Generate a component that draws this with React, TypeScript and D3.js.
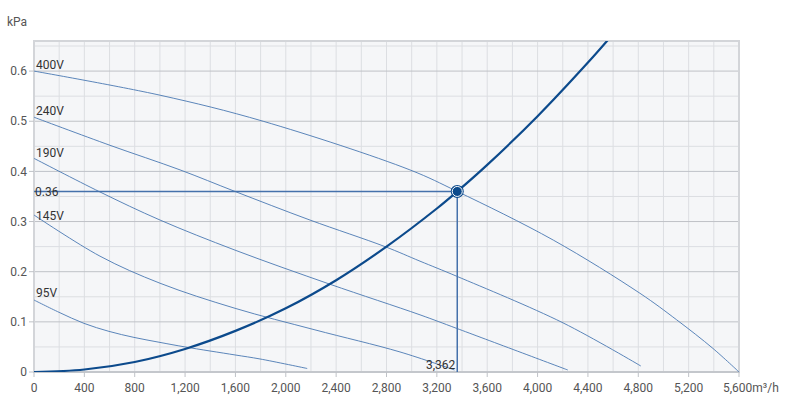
import React from 'react';
import * as d3 from 'd3';

const W = 788;
const H = 405;
const M = { left: 34, right: 49, top: 41, bottom: 33 };

const X_MAX = 5600;
const Y_MAX = 0.66;

const xTicks = [0, 400, 800, 1200, 1600, 2000, 2400, 2800, 3200, 3600, 4000, 4400, 4800, 5200, 5600];
const yTicks = [0, 0.1, 0.2, 0.3, 0.4, 0.5, 0.6];
const xMinorGrid = d3.range(0, 5601, 200);
const yMinorGrid = [0.05, 0.15, 0.25, 0.35, 0.45, 0.55, 0.65];

const fanLabels = ['400V', '240V', '190V', '145V', '95V'];

const fan400: [number, number][] = [
  [0, 0.6], [1000, 0.552], [1820, 0.5], [2986, 0.403], [3362, 0.36], [4125, 0.263],
  [4813, 0.157], [5105, 0.104], [5393, 0.047], [5600, 0],
];
const fan240: [number, number][] = [
  [0, 0.508], [604, 0.452], [1160, 0.403], [1597, 0.36], [2192, 0.303], [2788, 0.25],
  [3066, 0.221], [3357, 0.191], [4202, 0.098], [4820, 0.012],
];
const fan190: [number, number][] = [
  [0, 0.426], [524, 0.359], [1001, 0.303], [1597, 0.243], [2351, 0.175], [3066, 0.114],
  [3357, 0.087], [4240, 0.004],
];
const fan145: [number, number][] = [
  [0, 0.313], [524, 0.231], [1001, 0.177], [1597, 0.127], [2232, 0.084], [2907, 0.04],
  [3340, 0.004],
];
const fan95: [number, number][] = [
  [0, 0.1435], [199, 0.119], [397, 0.097], [596, 0.081], [794, 0.069], [1001, 0.059],
  [1199, 0.05], [1597, 0.034], [1795, 0.026], [2170, 0.007],
];
const fanSeries = [fan400, fan240, fan190, fan145, fan95];

const systemCurve: [number, number][] = [
  [0, 0], [400, 0.005], [800, 0.02], [1200, 0.046], [1600, 0.082], [2000, 0.127],
  [2400, 0.183], [2800, 0.25], [3200, 0.326], [3362, 0.36], [3600, 0.413],
  [4000, 0.51], [4400, 0.617], [4600, 0.674],
];

const opX = 3362;
const opY = 0.36;
const opXLabel = '3,362';
const opYLabel = '0.36';
const xUnit = 'm³/h';
const yUnit = 'kPa';

// label vertical offsets (style only)
const labelDy = [-2, -2, -1, 5, -3];

export default function App() {
  const x = d3.scaleLinear().domain([0, X_MAX]).range([M.left, W - M.right]);
  const y = d3.scaleLinear().domain([0, Y_MAX]).range([H - M.bottom, M.top]);
  const line = d3
    .line<[number, number]>()
    .x((d) => x(d[0]))
    .y((d) => y(d[1]))
    .curve(d3.curveCatmullRom.alpha(0.5));
  const fmt = d3.format(',');
  const font = 'Roboto, "Noto Sans", sans-serif';
  const x0 = x(0), x1 = x(X_MAX), y0 = y(0), y1 = y(Y_MAX);

  return (
    <svg
      width={W}
      height={H}
      style={{ position: 'absolute', left: 0, top: 0, background: '#fff' }}
      fontFamily={font}
    >
      <defs>
        <clipPath id="plot">
          <rect x={x0} y={y1} width={x1 - x0} height={y0 - y1} />
        </clipPath>
      </defs>
      <rect x={x0} y={y1} width={x1 - x0} height={y0 - y1} fill="#f5f6f8" />
      {xMinorGrid.map((v) => (
        <line key={'xg' + v} x1={x(v)} x2={x(v)} y1={y1} y2={y0} stroke="#dcdee2" strokeWidth={1} />
      ))}
      {yMinorGrid.map((v) => (
        <line key={'yg' + v} x1={x0} x2={x1} y1={y(v)} y2={y(v)} stroke="#dcdee2" strokeWidth={1} />
      ))}
      {yTicks.map((v) => (
        <line key={'ym' + v} x1={x0} x2={x1} y1={y(v)} y2={y(v)} stroke="#bfc2c7" strokeWidth={1} />
      ))}
      <rect x={x0} y={y1} width={x1 - x0} height={y0 - y1} fill="none" stroke="#d3d5d9" strokeWidth={2} />
      {yTicks.map((v) => (
        <line key={'yt' + v} x1={x0 - 5} x2={x0} y1={y(v)} y2={y(v)} stroke="#bfc2c7" />
      ))}
      {xTicks.map((v) => (
        <line key={'xt' + v} x1={x(v)} x2={x(v)} y1={y0} y2={y0 + 5} stroke="#bfc2c7" />
      ))}
      <line x1={x0} x2={x1} y1={y0} y2={y0} stroke="#bfc2c7" strokeWidth={1.5} />
      {yTicks.map((v) => (
        <text key={'yl' + v} x={x0 - 7} y={y(v)} dy="0.35em" textAnchor="end" fontSize={12} fill="#555">
          {v}
        </text>
      ))}
      {xTicks.map((v, i) => (
        <text key={'xl' + v} x={x(v)} y={y0 + 20} textAnchor={i === xTicks.length - 1 ? 'start' : 'middle'} dx={i === xTicks.length - 1 ? -16 : 0} fontSize={12} fill="#555">
          {fmt(v)}
          {i === xTicks.length - 1 ? xUnit : ''}
        </text>
      ))}
      <text x={7} y={26} fontSize={12} fill="#555">{yUnit}</text>

      <g clipPath="url(#plot)">
        {fanSeries.map((s, i) => (
          <path key={'f' + i} d={line(s) || ''} fill="none" stroke="#4a78b2" strokeWidth={0.9} />
        ))}
        <line x1={x(0)} x2={x(opX)} y1={y(opY)} y2={y(opY)} stroke="#4571ab" strokeWidth={1.5} />
        <line x1={x(opX)} x2={x(opX)} y1={y(opY)} y2={y(0)} stroke="#4571ab" strokeWidth={1.5} />
        <path d={line(systemCurve) || ''} fill="none" stroke="#0c4a8c" strokeWidth={2.2} />
      </g>
      {fanSeries.map((s, i) => (
        <text key={'fl' + i} x={x(0) + 2} y={y(s[0][1]) + labelDy[i]} fontSize={12} fill="#333">
          {fanLabels[i]}
        </text>
      ))}
      <text x={x(0) + 1} y={y(opY)} dy="0.35em" fontSize={12} fill="#333">{opYLabel}</text>
      <text x={x(opX) - 2} y={y(0) - 3} textAnchor="end" fontSize={12} fill="#333">{opXLabel}</text>
      <circle cx={x(opX)} cy={y(opY)} r={6.5} fill="#0c4a8c" />
      <circle cx={x(opX)} cy={y(opY)} r={5} fill="none" stroke="#ffffff" strokeWidth={1} />
      <circle cx={x(opX)} cy={y(opY)} r={3.8} fill="#0c4a8c" />
    </svg>
  );
}
